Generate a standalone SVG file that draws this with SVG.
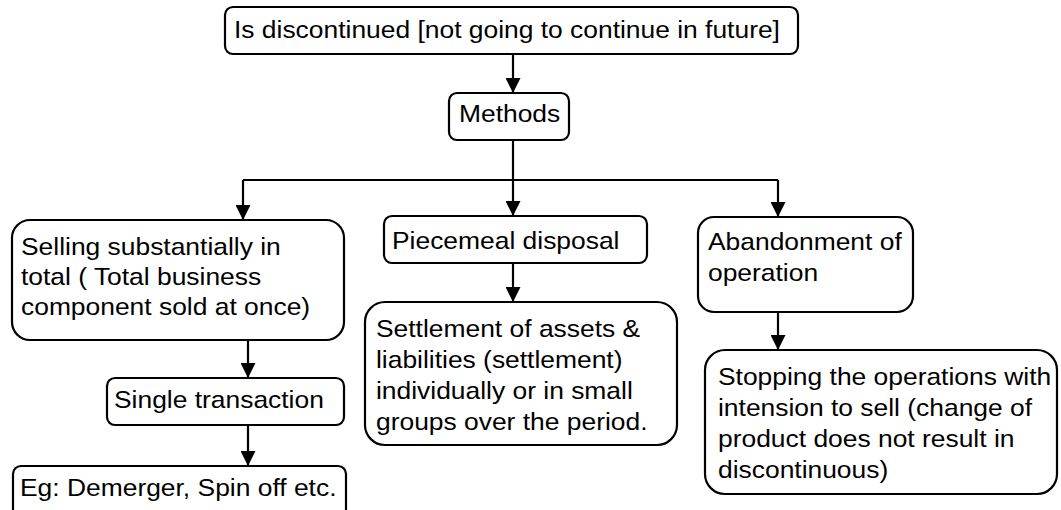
<svg xmlns="http://www.w3.org/2000/svg" width="1061" height="510" viewBox="0 0 1061 510">
<style>
.box{fill:#fff;stroke:#000;stroke-width:2.2}
.lbl{font-family:"Liberation Sans",Arial,sans-serif;font-size:23.8px;fill:#000}
.conn{fill:none;stroke:#000;stroke-width:2.2}
</style>
<defs>
<marker id="arr" markerUnits="userSpaceOnUse" markerWidth="15" markerHeight="15" refX="15" refY="7.5" orient="auto">
<path d="M0,0 L15,7.5 L0,15 Z" fill="#000"/>
</marker>
</defs>
<rect width="1061" height="510" fill="#fff"/>
<g id="connectors">
<line class="conn" x1="513" y1="54" x2="513" y2="93" marker-end="url(#arr)"/>
<line class="conn" x1="513" y1="140" x2="513" y2="180"/>
<line class="conn" x1="243" y1="180" x2="778" y2="180"/>
<line class="conn" x1="243" y1="180" x2="243" y2="220" marker-end="url(#arr)"/>
<line class="conn" x1="513" y1="180" x2="513" y2="216" marker-end="url(#arr)"/>
<line class="conn" x1="778" y1="180" x2="778" y2="217" marker-end="url(#arr)"/>
<line class="conn" x1="513" y1="263" x2="513" y2="302" marker-end="url(#arr)"/>
<line class="conn" x1="778" y1="312" x2="778" y2="350" marker-end="url(#arr)"/>
<line class="conn" x1="248" y1="340" x2="248" y2="378" marker-end="url(#arr)"/>
<line class="conn" x1="248" y1="425" x2="248" y2="466" marker-end="url(#arr)"/>
</g>
<g id="n-discontinued">
<rect class="box" x="225" y="7" width="573" height="47" rx="8"/>
<text class="lbl" transform="translate(234,38) scale(1.11,1)">Is discontinued [not going to continue in future]</text>
</g>
<g id="n-methods">
<rect class="box" x="449" y="93" width="120" height="47" rx="8"/>
<text class="lbl" transform="translate(459,122) scale(1.11,1)">Methods</text>
</g>
<g id="n-selling">
<rect class="box" x="12" y="220" width="332" height="120" rx="18"/>
<text class="lbl" transform="translate(21,255) scale(1.11,1)"><tspan x="0" y="0">Selling substantially in</tspan><tspan x="0" y="30">total ( Total business</tspan><tspan x="0" y="60">component sold at once)</tspan></text>
</g>
<g id="n-piecemeal">
<rect class="box" x="384" y="216" width="263" height="47" rx="8"/>
<text class="lbl" transform="translate(392,249) scale(1.11,1)">Piecemeal disposal</text>
</g>
<g id="n-abandonment">
<rect class="box" x="698" y="217" width="215" height="95" rx="16"/>
<text class="lbl" transform="translate(708,250) scale(1.11,1)"><tspan x="0" y="0">Abandonment of</tspan><tspan x="0" y="31">operation</tspan></text>
</g>
<g id="n-settlement">
<rect class="box" x="365" y="302" width="312" height="143" rx="20"/>
<text class="lbl" transform="translate(376,337) scale(1.11,1)"><tspan x="0" y="0">Settlement of assets &amp;</tspan><tspan x="0" y="31">liabilities (settlement)</tspan><tspan x="0" y="62">individually or in small</tspan><tspan x="0" y="93">groups over the period.</tspan></text>
</g>
<g id="n-stopping">
<rect class="box" x="705" y="350" width="352" height="144" rx="20"/>
<text class="lbl" transform="translate(718,385) scale(1.11,1)"><tspan x="0" y="0">Stopping the operations with</tspan><tspan x="0" y="31">intension to sell (change of</tspan><tspan x="0" y="62">product does not result in</tspan><tspan x="0" y="93">discontinuous)</tspan></text>
</g>
<g id="n-single">
<rect class="box" x="107" y="378" width="237" height="47" rx="8"/>
<text class="lbl" transform="translate(114,408) scale(1.11,1)">Single transaction</text>
</g>
<g id="n-eg">
<rect class="box" x="13" y="466" width="333" height="60" rx="8"/>
<text class="lbl" transform="translate(20,496) scale(1.11,1)">Eg: Demerger, Spin off etc.</text>
</g>
</svg>
